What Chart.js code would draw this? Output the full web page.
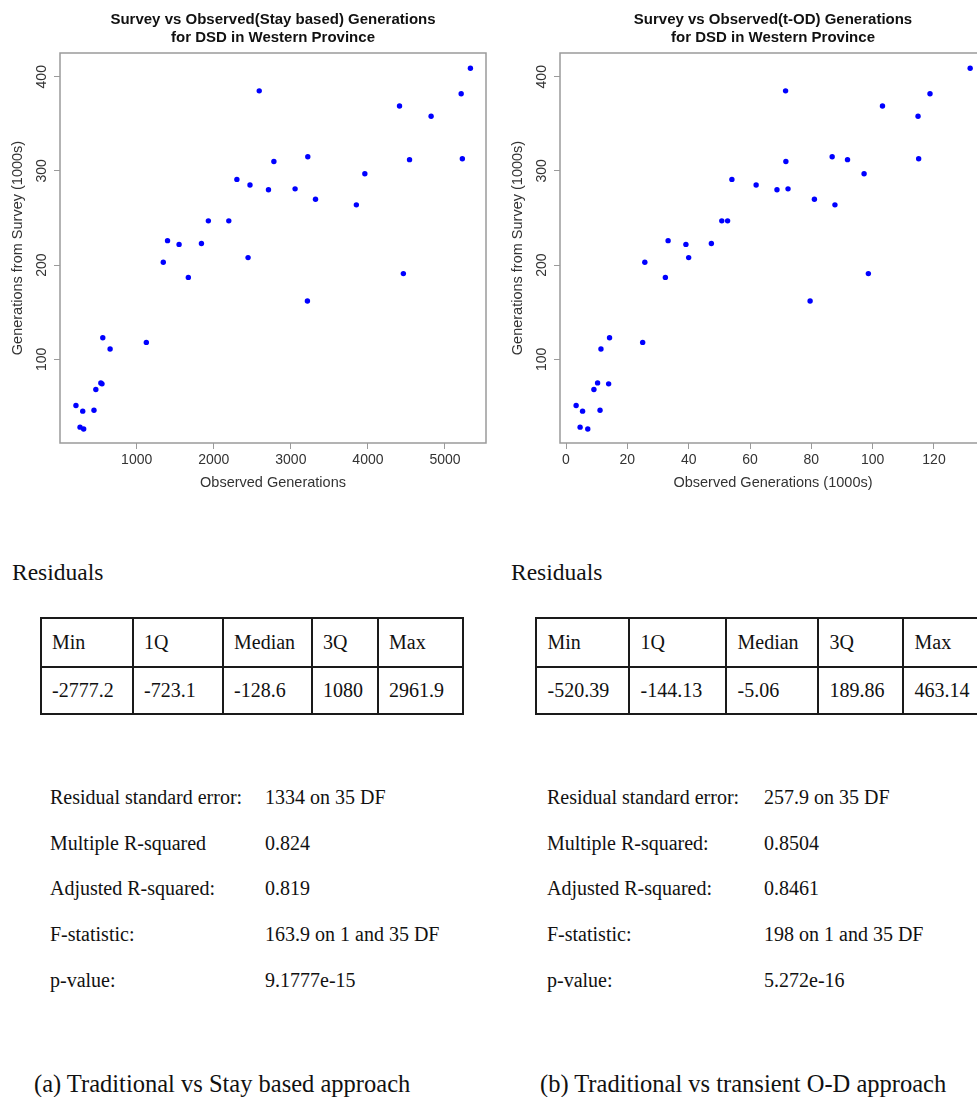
<!DOCTYPE html>
<html><head><meta charset="utf-8">
<script src="https://cdn.jsdelivr.net/npm/chart.js@4.4.1/dist/chart.umd.min.js"></script>
<style>
html,body{margin:0;padding:0;background:#fff;overflow:hidden;}
#page{position:relative;width:977px;height:1097px;overflow:hidden;background:#fff;}
.chartbox{position:absolute;top:0;width:490px;height:500px;}
.serif{font-family:'Liberation Serif','Times New Roman',serif;color:#111;position:absolute;white-space:nowrap;}
.cell{position:absolute;box-sizing:border-box;border:2px solid #1a1a1a;font-family:'Liberation Serif','Times New Roman',serif;font-size:20px;color:#111;white-space:nowrap;overflow:hidden;}
</style></head>
<body>
<div id="page">
  <div class="chartbox" style="left:0"><canvas id="c1" width="490" height="500"></canvas></div>
  <div class="chartbox" style="left:500px"><canvas id="c2" width="490" height="500"></canvas></div>
</div>
<script>
// ---- data ----
const surveyGen = [409,385,382,369,358,315,313,310,312,291,297,285,280,281,270,264,247,247,226,222,223,203,208,187,191,162,123,111,118,75,74,68,51,45,46,28,26];
const stayObserved = [5330,2590,5210,4410,4820,3220,5225,2780,4540,2300,3960,2470,2710,3055,3320,3850,1930,2195,1400,1550,1840,1345,2445,1670,4460,3215,560,655,1125,535,550,470,212,300,446,265,312];
const todObserved = [131.8,71.6,118.7,103.2,114.8,86.8,115.0,71.7,91.8,54.1,97.2,62.0,68.8,72.4,81.0,87.7,50.8,52.7,33.3,39.1,47.4,25.7,40.0,32.4,98.6,79.6,14.2,11.4,25.0,10.3,13.9,9.1,3.3,5.4,11.1,4.6,7.1];

const yTicks = [100,200,300,400];
const yTickLabels = ['100','200','300','400'];
const stayXTicks = [1000,2000,3000,4000,5000];
const stayXTickLabels = ['1000','2000','3000','4000','5000'];
const todXTicks = [0,20,40,60,80,100,120];
const todXTickLabels = ['0','20','40','60','80','100','120'];

const stayTitle = ['Survey vs Observed(Stay based) Generations','for DSD in Western Province'];
const todTitle = ['Survey vs Observed(t-OD) Generations','for DSD in Western Province'];
const yTitle = 'Generations from Survey (1000s)';
const stayXTitle = 'Observed Generations';
const todXTitle = 'Observed Generations (1000s)';

const residHeaders = ['Min','1Q','Median','3Q','Max'];
const residStay = ['-2777.2','-723.1','-128.6','1080','2961.9'];
const residTod = ['-520.39','-144.13','-5.06','189.86','463.14'];

const statLabelsStay = ['Residual standard error:','Multiple R-squared','Adjusted R-squared:','F-statistic:','p-value:'];
const statValuesStay = ['1334 on 35 DF','0.824','0.819','163.9 on 1 and 35 DF','9.1777e-15'];
const statLabelsTod = ['Residual standard error:','Multiple R-squared:','Adjusted R-squared:','F-statistic:','p-value:'];
const statValuesTod = ['257.9 on 35 DF','0.8504','0.8461','198 on 1 and 35 DF','5.272e-16'];

const captionStay = '(a) Traditional vs Stay based approach';
const captionTod = '(b) Traditional vs transient O-D approach';

// ---- charts ----
Chart.defaults.font.family = "'Liberation Sans', Arial, sans-serif";

const boxPlugin = {
  id: 'rbox',
  beforeDatasetsDraw(chart) {
    const {ctx, chartArea: a} = chart;
    ctx.save();
    ctx.strokeStyle = '#9a9a9a';
    ctx.lineWidth = 1.5;
    ctx.strokeRect(a.left, a.top, a.right - a.left, a.bottom - a.top);
    ctx.restore();
  }
};

function makeChart(id, xs, xTicks, xLabels, xMin, xMax, titleLines, xTitle) {
  const pts = xs.map((x, i) => ({x: x, y: surveyGen[i]}));
  return new Chart(document.getElementById(id), {
    type: 'scatter',
    data: {datasets: [{data: pts, backgroundColor: '#0000ff', borderColor: '#0000ff', borderWidth: 0, pointRadius: 2.7, pointHoverRadius: 2.7}]},
    options: {
      responsive: false, animation: false, devicePixelRatio: 1,
      layout: {padding: {left: 0, right: 4, top: 0, bottom: 0}},
      plugins: {
        legend: {display: false}, tooltip: {enabled: false},
        title: {display: true, fullSize: false, text: titleLines, color: '#111',
          font: {size: 15, weight: 'bold', lineHeight: 1.2}, padding: {top: 11, bottom: 6}}
      },
      scales: {
        x: {
          type: 'linear', position: 'bottom', min: xMin, max: xMax,
          afterBuildTicks: s => { s.ticks = xTicks.map(v => ({value: v})); },
          afterFit: s => { s.height = 57; },
          ticks: {callback: (v, i) => xLabels[i], color: '#333', font: {size: 14}, padding: 3, minRotation: 0, maxRotation: 0, autoSkip: false},
          grid: {display: true, drawOnChartArea: false, drawTicks: true, tickLength: 6, color: '#9a9a9a', lineWidth: 1},
          border: {display: false},
          title: {display: true, text: xTitle, color: '#333', font: {size: 14.5, lineHeight: 1.2}, padding: {top: 0, bottom: 8.3}}
        },
        y: {
          type: 'linear', position: 'left', min: 11.2, max: 425.2,
          afterBuildTicks: s => { s.ticks = yTicks.map(v => ({value: v})); },
          afterFit: s => { s.width = 60; },
          ticks: {callback: (v, i) => yTickLabels[i], color: '#333', font: {size: 14}, padding: 0, minRotation: 90, maxRotation: 90, crossAlign: 'center', autoSkip: false},
          grid: {display: true, drawOnChartArea: false, drawTicks: true, tickLength: 6, color: '#9a9a9a', lineWidth: 1},
          border: {display: false},
          title: {display: true, text: yTitle, color: '#333', font: {size: 14.5, lineHeight: 1.2}, padding: {top: 9.3, bottom: 0}}
        }
      }
    },
    plugins: [boxPlugin]
  });
}

makeChart('c1', stayObserved, stayXTicks, stayXTickLabels, 5, 5532, stayTitle, stayXTitle);
makeChart('c2', todObserved, todXTicks, todXTickLabels, -1.96, 136.96, todTitle, todXTitle);

// ---- text blocks below the charts ----
const page = document.getElementById('page');
function addText(txt, left, baseline, size) {
  const d = document.createElement('div');
  d.className = 'serif';
  d.style.fontSize = size + 'px';
  d.style.lineHeight = size + 'px';
  d.style.left = left + 'px';
  d.style.top = (baseline - 0.8375 * size) + 'px';
  d.textContent = txt;
  page.appendChild(d);
}
function addTable(colX, rowY, rows, padLeft) {
  for (let r = 0; r < rows.length; r++) {
    for (let c = 0; c < rows[r].length; c++) {
      const d = document.createElement('div');
      d.className = 'cell';
      const l = colX[c] - 1, t = rowY[r] - 1;
      const w = colX[c + 1] - colX[c] + 2, h = rowY[r + 1] - rowY[r] + 2;
      d.style.left = l + 'px'; d.style.top = t + 'px';
      d.style.width = w + 'px'; d.style.height = h + 'px';
      d.style.lineHeight = (h - 4) + 'px';
      d.style.paddingLeft = padLeft + 'px';
      d.textContent = rows[r][c];
      page.appendChild(d);
    }
  }
}

addText('Residuals', 12, 580.7, 23.5);
addText('Residuals', 511, 580.7, 23.5);

addTable([41, 133, 223, 312, 378, 463], [618, 667, 714], [residHeaders, residStay], 10);
addTable([536, 629, 726, 818, 903, 1000], [618, 667, 714], [residHeaders, residTod], 10.5);

const statBaselines = [803.3, 849.3, 894.9, 940.6, 986.6];
statBaselines.forEach((b, i) => {
  addText(statLabelsStay[i], 50, b, 20);
  addText(statValuesStay[i], 265, b, 20);
  addText(statLabelsTod[i], 547, b, 20);
  addText(statValuesTod[i], 764, b, 20);
});

addText(captionStay, 34, 1093, 24.5);
addText(captionTod, 540, 1093, 24.5);
</script>
</body></html>
